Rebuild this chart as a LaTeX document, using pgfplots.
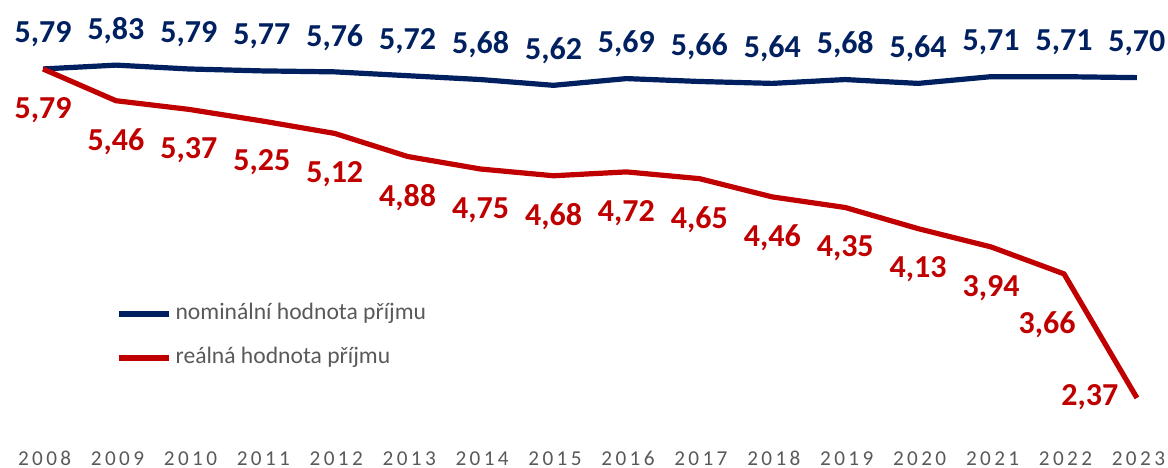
\documentclass[border=0pt]{standalone}
\usepackage{fontspec}
\setmainfont{Carlito}
\newfontfamily\tickfont[LetterSpace=16]{Carlito}
\usepackage{pgfplots}
\usepackage{pgfplotstable}
\pgfplotsset{compat=1.18}
\definecolor{navy}{HTML}{002060}
\definecolor{dred}{HTML}{C00000}
\definecolor{txtgray}{HTML}{595959}

\pgfplotstableread{
x y lab dx dy
2008 5.79 5,79 0 17.25
2009 5.83 5,83 0 17.25
2010 5.79 5,79 0 17.25
2011 5.77 5,77 0 17.25
2012 5.76 5,76 0 17.25
2013 5.72 5,72 0 17.25
2014 5.68 5,68 0 17.25
2015 5.62 5,62 0 17.25
2016 5.69 5,69 0 17.25
2017 5.66 5,66 0 17.25
2018 5.64 5,64 0 17.25
2019 5.68 5,68 0 17.25
2020 5.64 5,64 0 17.25
2021 5.71 5,71 0 17.25
2022 5.71 5,71 0 17.25
2023 5.70 5,70 0 17.25
}\nominal

\pgfplotstableread{
x y lab dx dy
2008 5.79 5,79 0 -20.5
2009 5.46 5,46 0 -20.5
2010 5.37 5,37 0 -20.5
2011 5.25 5,25 0 -20.5
2012 5.12 5,12 0 -20.5
2013 4.88 4,88 0 -20.5
2014 4.75 4,75 0 -20.5
2015 4.68 4,68 0 -20.5
2016 4.72 4,72 0 -20.5
2017 4.65 4,65 0 -20.5
2018 4.46 4,46 0 -20.5
2019 4.35 4,35 0 -20.5
2020 4.13 4,13 0 -20.5
2021 3.94 3,94 0 -20.5
2022 3.66 3,66 -8.5 -25.5
2023 2.37 2,37 -23.5 0.5
}\real

\begin{document}
\begin{tikzpicture}
\begin{axis}[
  at={(0,0)}, anchor=south west,
  width=584bp, height=234bp, scale only axis,
  xmin=2007.41, xmax=2023.426,
  ymin=1.642, ymax=6.507,
  axis line style={draw=none},
  tick style={draw=none},
  axis x line*=bottom,
  axis y line*=left,
  clip=false,
  xtick={2008,...,2023},
  xticklabels={2008,2009,2010,2011,2012,2013,2014,2015,2016,2017,2018,2019,2020,2021,2022,2023},
  xticklabel style={anchor=base, inner sep=0pt, xshift=0.8bp, yshift=1.5bp, font=\fontsize{10.6bp}{12bp}\tickfont, text=txtgray},
  ytick=\empty,
  legend style={at={(0.0993,0.282)}, anchor=west, draw=none, fill=none, inner sep=0pt,
     font=\fontsize{11.8bp}{14bp}\selectfont\color{txtgray},
     nodes={inner sep=0pt, text height=8bp, text depth=2.5bp},
     row sep=11.5bp, column sep=2bp},
  legend cell align=left,
  legend image code/.code={\draw[#1] (0bp,0bp) -- (25bp,0bp);},
]
\addplot[navy, line width=2.6bp, line join=round,
  point meta=explicit symbolic,
  nodes near coords,
  visualization depends on={\thisrow{dx}\as\myDx},
  visualization depends on={\thisrow{dy}\as\myDy},
  nodes near coords style={anchor=center, inner sep=0pt, font=\fontsize{16bp}{19bp}\selectfont\bfseries,
     text=navy, xshift=\myDx bp, yshift=\myDy bp}]
  table[x=x, y=y, meta=lab] {\nominal};
\addlegendentry{nominální hodnota příjmu}
\addplot[dred, line width=2.6bp, line join=round,
  point meta=explicit symbolic,
  nodes near coords,
  visualization depends on={\thisrow{dx}\as\myDx},
  visualization depends on={\thisrow{dy}\as\myDy},
  nodes near coords style={anchor=center, inner sep=0pt, font=\fontsize{16bp}{19bp}\selectfont\bfseries,
     text=dred, xshift=\myDx bp, yshift=\myDy bp}]
  table[x=x, y=y, meta=lab] {\real};
\addlegendentry{reálná hodnota příjmu}
\end{axis}
\pgfresetboundingbox
\path[use as bounding box] (0,0) rectangle (584bp,234bp);
\end{tikzpicture}
\end{document}
